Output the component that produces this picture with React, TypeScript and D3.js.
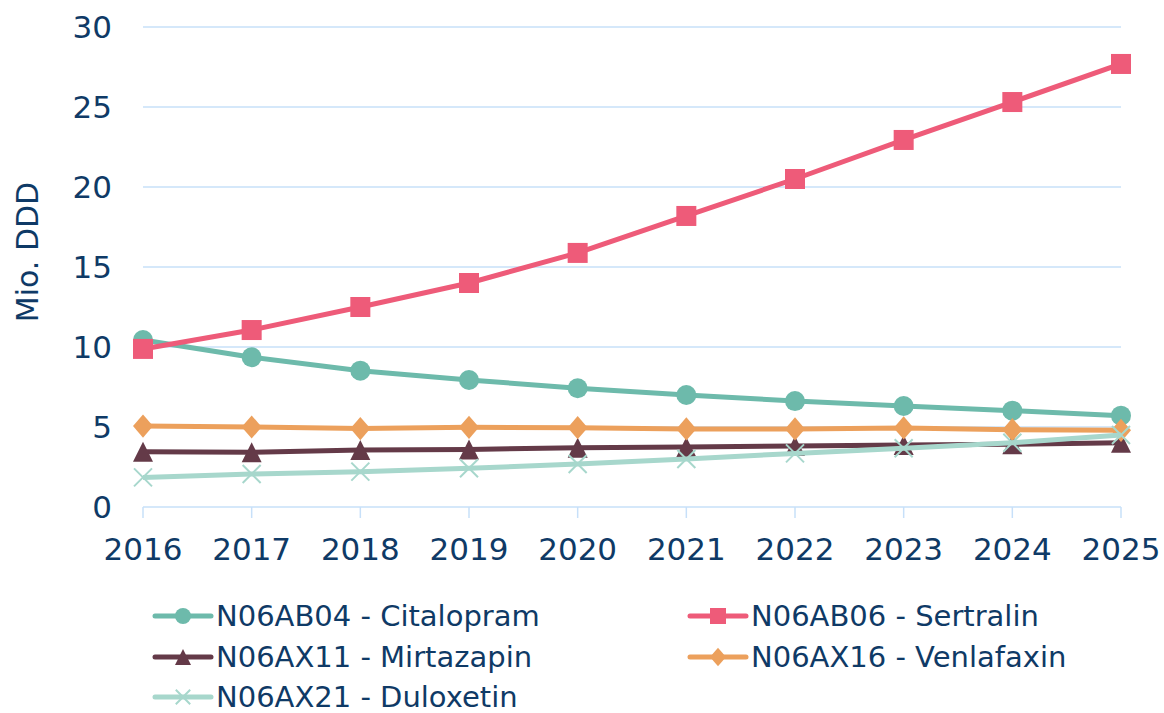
import React, { useEffect, useRef } from "react";
import * as d3 from "d3";

const years = ["2016", "2017", "2018", "2019", "2020", "2021", "2022", "2023", "2024", "2025"];
const citalopram = [10.44, 9.36, 8.52, 7.94, 7.42, 7.0, 6.62, 6.31, 6.02, 5.71];
const sertralin = [9.88, 11.06, 12.5, 14.0, 15.88, 18.19, 20.5, 22.94, 25.31, 27.69];
const mirtazapin = [3.46, 3.42, 3.56, 3.6, 3.71, 3.75, 3.81, 3.88, 3.92, 4.02];
const venlafaxin = [5.06, 5.0, 4.9, 4.98, 4.96, 4.88, 4.88, 4.94, 4.83, 4.79];
const duloxetin = [1.85, 2.06, 2.21, 2.42, 2.69, 3.0, 3.35, 3.67, 4.02, 4.5];
const yTicks = [0, 5, 10, 15, 20, 25, 30];

const seriesNames = [
  "N06AB04 - Citalopram",
  "N06AB06 - Sertralin",
  "N06AX11 - Mirtazapin",
  "N06AX16 - Venlafaxin",
  "N06AX21 - Duloxetin",
];
const seriesColors = ["#6dbaab", "#ee5b79", "#643a48", "#eca05c", "#a7d7cc"];
const seriesShapes = ["circle", "square", "triangle", "diamond", "x"];
const seriesValues = [citalopram, sertralin, mirtazapin, venlafaxin, duloxetin];

const textColor = "#0f3a66";
const gridColor = "#c7e0f9";
const font = "'DejaVu Sans', Verdana, sans-serif";

function drawMarker(g, shape, color, cx, cy, s) {
  if (shape === "circle") {
    g.append("circle").attr("cx", cx).attr("cy", cy).attr("r", s / 2).attr("fill", color);
  } else if (shape === "square") {
    g.append("rect").attr("x", cx - s / 2).attr("y", cy - s / 2).attr("width", s).attr("height", s).attr("fill", color);
  } else if (shape === "triangle") {
    g.append("path")
      .attr("d", `M${cx},${cy - s / 2}L${cx + s / 2},${cy + s / 2}L${cx - s / 2},${cy + s / 2}Z`)
      .attr("fill", color);
  } else if (shape === "diamond") {
    g.append("path")
      .attr("d", `M${cx},${cy - s * 0.58}L${cx + s / 2},${cy}L${cx},${cy + s * 0.58}L${cx - s / 2},${cy}Z`)
      .attr("fill", color);
  } else {
    const h = s * 0.45;
    g.append("path")
      .attr("d", `M${cx - h},${cy - h}L${cx + h},${cy + h}M${cx - h},${cy + h}L${cx + h},${cy - h}`)
      .attr("stroke", color)
      .attr("stroke-width", 2)
      .attr("fill", "none");
  }
}

export default function App() {
  const ref = useRef(null);

  useEffect(() => {
    const svgEl = d3.select(ref.current);
    svgEl.selectAll("*").remove();
    const svg = svgEl.append("g");

    const x = d3.scalePoint().domain(years).range([143, 1121]);
    const y = d3.scaleLinear().domain([0, 30]).range([507, 27]);

    // gridlines
    svg
      .selectAll(".grid")
      .data(yTicks.filter((d) => d > 0))
      .enter()
      .append("line")
      .attr("x1", 143)
      .attr("x2", 1121)
      .attr("y1", (d) => y(d))
      .attr("y2", (d) => y(d))
      .attr("stroke", gridColor)
      .attr("stroke-width", 1.5);

    // x axis line + ticks
    svg.append("line")
      .attr("x1", 143).attr("x2", 1121)
      .attr("y1", y(0)).attr("y2", y(0))
      .attr("stroke", gridColor).attr("stroke-width", 1.5);
    svg
      .selectAll(".xtick")
      .data(years)
      .enter()
      .append("line")
      .attr("x1", (d) => x(d))
      .attr("x2", (d) => x(d))
      .attr("y1", y(0))
      .attr("y2", y(0) + 11)
      .attr("stroke", gridColor)
      .attr("stroke-width", 1.5);

    // tick labels
    svg
      .selectAll(".xlab")
      .data(years)
      .enter()
      .append("text")
      .attr("x", (d) => x(d))
      .attr("y", 560)
      .attr("text-anchor", "middle")
      .attr("font-family", font)
      .attr("font-size", 31)
      .attr("fill", textColor)
      .text((d) => d);

    svg
      .selectAll(".ylab")
      .data(yTicks)
      .enter()
      .append("text")
      .attr("x", 112)
      .attr("y", (d) => y(d) + 11)
      .attr("text-anchor", "end")
      .attr("font-family", font)
      .attr("font-size", 31)
      .attr("fill", textColor)
      .text((d) => d);

    svg.append("text")
      .attr("transform", `translate(38,252) rotate(-90)`)
      .attr("text-anchor", "middle")
      .attr("font-family", font)
      .attr("font-size", 30)
      .attr("fill", textColor)
      .text("Mio. DDD");

    const line = d3
      .line()
      .x((d, i) => x(years[i]))
      .y((d) => y(d));

    seriesValues.forEach((vals, si) => {
      const g = svg.append("g");
      g.append("path")
        .datum(vals)
        .attr("d", line)
        .attr("fill", "none")
        .attr("stroke", seriesColors[si])
        .attr("stroke-width", 5)
        .attr("stroke-linejoin", "round");
      vals.forEach((v, i) => {
        drawMarker(g, seriesShapes[si], seriesColors[si], x(years[i]), y(v), 20);
      });
    });

    // legend
    const legendPos = [
      [155, 616],
      [690, 616],
      [155, 657],
      [690, 657],
      [155, 697],
    ];
    seriesNames.forEach((name, si) => {
      const [lx, ly] = legendPos[si];
      const g = svg.append("g");
      g.append("line")
        .attr("x1", lx).attr("x2", lx + 56)
        .attr("y1", ly).attr("y2", ly)
        .attr("stroke", seriesColors[si])
        .attr("stroke-width", 5)
        .attr("stroke-linecap", "round");
      drawMarker(g, seriesShapes[si], seriesColors[si], lx + 28, ly, 16);
      g.append("text")
        .attr("x", lx + 61)
        .attr("y", ly + 10)
        .attr("font-family", font)
        .attr("font-size", 29)
        .attr("fill", textColor)
        .text(name);
    });
  }, []);

  return (
    <svg
      ref={ref}
      width={1164}
      height={713}
      style={{ display: "block", position: "absolute", top: 0, left: 0 }}
    />
  );
}
